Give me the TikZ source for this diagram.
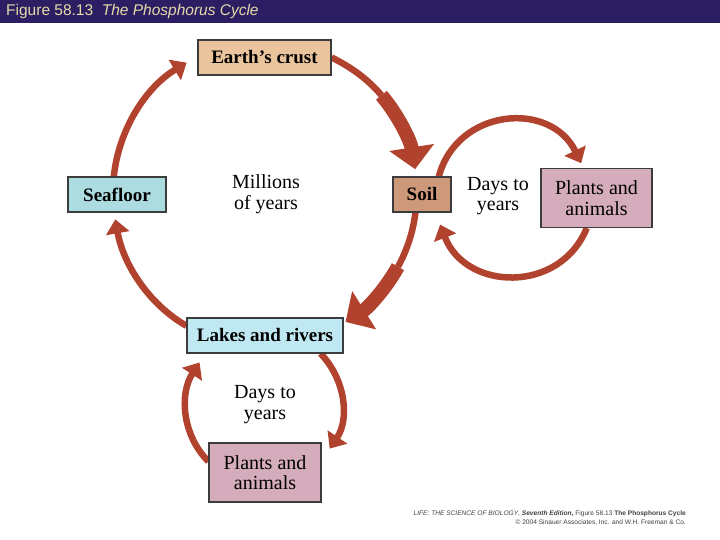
\documentclass[tikz,border=0pt]{standalone}
\usepackage{fontspec}
\setmainfont{Liberation Serif}
\newfontfamily\hdrfont{Liberation Sans}
\usepackage{xcolor}
\usepackage{tikz}
\usetikzlibrary{arrows.meta,calc,backgrounds}
\definecolor{rust}{RGB}{176,66,46}
\definecolor{hdrbg}{RGB}{44,30,98}
\definecolor{hdrtext}{RGB}{228,218,170}
\definecolor{crustfill}{RGB}{234,196,156}
\definecolor{soilfill}{RGB}{206,152,122}
\definecolor{seafill}{RGB}{172,220,224}
\definecolor{lakefill}{RGB}{192,232,242}
\definecolor{biofill}{RGB}{212,172,188}
\definecolor{boxline}{RGB}{60,60,60}

\begin{document}
\begin{tikzpicture}[x=1pt, y=1pt,
  cbox/.style={draw=boxline, line width=1.1pt, inner sep=0pt, align=center,
    font=\fontsize{19}{21}\selectfont\bfseries},
  bbox/.style={cbox, font=\fontsize{20}{20.5}\selectfont},
  flowline/.style={rust, line width=6.5pt},
  flow/.style={flowline, -{Triangle[width=23pt,length=14pt]}},
  bigflow/.style={rust, line width=14pt, -{Triangle[width=44pt,length=22pt]}},
  lbl/.style={font=\fontsize{20}{20.5}\selectfont, align=center}
]
  \useasboundingbox (0,0) rectangle (720,540);

  % Title bar
  \fill[hdrbg] (0,517) rectangle (720,540);
  \node[anchor=west, inner sep=0pt, text=hdrtext,
    font=\hdrfont\fontsize{15.5}{17}\selectfont] (title) at (6,528.5)
    {Figure 58.13\ \ \textit{The Phosphorus Cycle}};

  % Compartments
  \node[cbox, fill=crustfill, minimum width=133pt, minimum height=35pt] (crust) at (264.5,482.5) {Earth’s crust};
  \node[cbox, fill=seafill, minimum width=98pt, minimum height=35pt] (seafloor) at (117,345.5) {Seafloor};
  \node[cbox, fill=soilfill, minimum width=58pt, minimum height=35pt] (soil) at (422,345.5) {Soil};
  \node[cbox, fill=lakefill, minimum width=156pt, minimum height=35pt] (lakes) at (265,204.5) {Lakes and rivers};
  \node[bbox, fill=biofill, minimum width=111pt, minimum height=59pt] (plantsR) at (596.5,342) {Plants and\\animals};
  \node[bbox, fill=biofill, minimum width=112pt, minimum height=59pt] (plantsB) at (265,67.5) {Plants and\\animals};

  % Time scales
  \node[lbl] (slowlbl) at (266,346) {Millions\\of years};
  \node[lbl] (fastR) at (498,344) {Days to\\years};
  \node[lbl] (fastB) at (265,135.5) {Days to\\years};

  % Points on the cycles
  \coordinate (ring) at (265,347);
  \coordinate (crustmid) at ($(ring)+(40:152)$);
  \coordinate (soiltip) at ($(ring)+(9:152)$);
  \coordinate (soilmid) at ($(ring)+(-29:152)$);
  \coordinate (laketip) at ($(ring)+(-58:152)$);
  \coordinate (seatip) at ($(ring)+(190:152)$);
  \coordinate (crusttip) at ($(ring)+(121:152)$);
  \coordinate (loopR) at (512,343);
  \coordinate (plantRtip) at ($(loopR)+(26:77)$);
  \coordinate (soilRtip) at ($(loopR)+(-159:77)$);
  \coordinate (loopB) at (265,135);
  \coordinate (plantBtip) at ($(loopB)+(-34:78)$);
  \coordinate (lakeBtip) at ($(loopB)+(147:78)$);

  \begin{scope}[on background layer]
    % Slow cycle
    \draw[flowline] (crust.east) to[out=-26, in=130, looseness=0.86] (crustmid);
    \draw[bigflow] (crustmid) to[out=-50, in=99, looseness=0.87] (soiltip);
    \draw[flowline] (soil.250) to[out=-97, in=61, looseness=0.86] (soilmid);
    \draw[bigflow] (soilmid) to[out=-119, in=32, looseness=0.87] (laketip);
    \draw[flow] (lakes.173) to[out=150, in=-80, looseness=0.89] (seatip);
    \draw[flow] (seafloor.100) to[out=84, in=-149, looseness=0.9] (crusttip);
    % Soil loop
    \draw[flow] (soil.47) to[out=75, in=116, looseness=1.26] (plantRtip);
    \draw[flow] (plantsR.252) to[out=-112, in=-69, looseness=1.24] (soilRtip);
    % Water loop
    \draw[flow] (lakes.-18) to[out=-46, in=56, looseness=0.96] (plantBtip);
    \draw[flow] (plantsB.169) to[out=135, in=-123, looseness=0.96] (lakeBtip);
  \end{scope}

  % Source line
  \node[anchor=north east, align=right, inner sep=0pt, text=black!75,
    font=\hdrfont\fontsize{6.6}{9.5}\selectfont] (credit) at (686,29.5)
    {\textit{LIFE: THE SCIENCE OF BIOLOGY}, \textbf{\textit{Seventh Edition},} Figure 58.13 \textbf{The Phosphorus Cycle}\\
     \textcopyright{} 2004 Sinauer Associates, Inc. and W.H. Freeman \& Co.};
\end{tikzpicture}
\end{document}
